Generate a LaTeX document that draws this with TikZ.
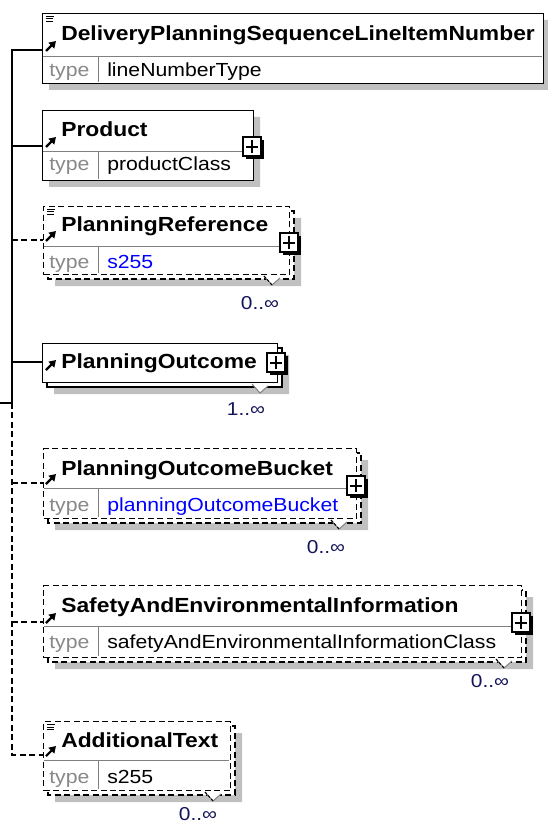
\documentclass[tikz,border=0pt]{standalone}
\usepackage{fontspec}
\setmainfont[FakeStretch=1.12]{Liberation Sans}
\usetikzlibrary{arrows.meta}

\definecolor{shadowgray}{RGB}{192,192,192}
\definecolor{rulegray}{RGB}{128,128,128}
\definecolor{typegray}{RGB}{136,136,136}
\definecolor{refblue}{RGB}{0,0,255}
\definecolor{cardnavy}{RGB}{20,20,90}

\begin{document}
\begin{tikzpicture}[
        x=0.75pt, y=-0.75pt,
        elem/.style={rectangle, draw=black, line width=1.1pt, fill=white,
                inner sep=0pt, anchor=north west},
        optional/.style={dash pattern=on 4.5pt off 2.6pt},
        rowline/.style={draw=rulegray, line width=0.75pt},
        wire/.style={line width=1.3pt},
        elemname/.style={anchor=base west, inner sep=0pt,
                font=\fontsize{15.3}{18}\selectfont\bfseries},
        typelabel/.style={anchor=base west, inner sep=0pt, text=typegray,
                font=\fontsize{14.2}{17}\selectfont},
        typename/.style={anchor=base west, inner sep=0pt,
                font=\fontsize{14.2}{17}\selectfont},
        card/.style={inner sep=0pt, text=cardnavy,
                font=\fontsize{14}{16}\selectfont} ]

    \useasboundingbox (0,0) rectangle (547,823);

    % drop shadows
    \fill[shadowgray]
    \foreach \l/\t/\r/\b/\o in {42/13/543/83/7, 42/110/253/180/7,
            43/206/289/274/12, 42/343/277/382/12, 43/448/356/518/12,
            43/585/521/657/12, 43/721/230/790/12} {
            (\l+\o,\t+\o) rectangle (\r+\o,\b+\o)
        };

    % second copy behind elements that repeat
    \filldraw[draw=black, fill=white, line width=1.1pt, optional]
    \foreach \l/\t/\r/\b in {43/206/289/274, 43/448/356/518,
            43/585/521/657, 43/721/230/790} {
            (\l+5,\t+5) rectangle (\r+5,\b+5)
        };
    \filldraw[draw=black, fill=white, line width=1.1pt]
    (47,348) rectangle (282,387);

    \node[elem, minimum width=501*0.75pt, minimum height=70*0.75pt] (seqline) at (42,13) {};
    \node[elem, minimum width=211*0.75pt, minimum height=70*0.75pt] (product) at (42,110) {};
    \node[elem, optional, minimum width=246*0.75pt, minimum height=68*0.75pt] (planref) at (43,206) {};
    \node[elem, minimum width=235*0.75pt, minimum height=39*0.75pt] (outcome) at (42,343) {};
    \node[elem, optional, minimum width=313*0.75pt, minimum height=70*0.75pt] (bucket) at (43,448) {};
    \node[elem, optional, minimum width=478*0.75pt, minimum height=72*0.75pt] (safety) at (43,585) {};
    \node[elem, optional, minimum width=187*0.75pt, minimum height=69*0.75pt] (addtext) at (43,721) {};

    \draw[rowline]
    \foreach \l/\r/\d/\b in {42/543/57/83, 42/253/152/180, 43/289/247/274,
            43/356/488/518, 43/521/626/657, 43/230/760/790} {
            (\l+1,\d) -- (\r-1,\d) (98,\d) -- (98,\b-1)
        };

    % multiplicity marks
    \filldraw[fill=white, draw=rulegray, line width=0.75pt]
    \foreach \R/\B in {294/279, 282/387, 361/523, 526/662, 235/795} {
            (\R-30,\B-3) -- (\R-22,\B+6) -- (\R-14,\B-1)
        };
    \draw[line width=0.75pt, dash pattern=on 2pt off 1.5pt]
    \foreach \R/\B in {294/279, 361/523, 526/662, 235/795} {
            (\R-30,\B-3) -- (\R-22,\B+6)
        };

    % expand buttons
    \foreach \cx/\cy in {252/147, 289/243, 276/363, 356/486, 521/623} {
            \fill[black] (\cx-6,\cy-7) rectangle (\cx+12,\cy+12);
            \filldraw[draw=black, fill=white, line width=1.1pt]
            (\cx-9,\cy-10) rectangle (\cx+9,\cy+9);
            \draw[line width=0.85pt] (\cx-6,\cy) -- (\cx+6,\cy) (\cx,\cy-7) -- (\cx,\cy+6);
        }

    % text content icons
    \draw[line width=0.75pt]
    \foreach \l/\t in {42/13, 43/206, 43/721} {
            (\l+4,\t+3.5) -- (\l+12,\t+3.5)
            (\l+4,\t+6) -- (\l+11,\t+6)
            (\l+4,\t+8.5) -- (\l+11,\t+8.5)
        };

    % reference arrows
    \foreach \y in {50, 146, 240, 369, 483, 622, 755} {
            \draw[line width=1.6pt, -{Triangle[length=5pt, width=6pt]}]
            (46,\y+1) -- (56,\y-9);
        }

    \node[elemname] (seqline-name) at (61,41) {DeliveryPlanningSequenceLineItemNumber};
    \node[typelabel] (seqline-tag) at (49,77) {type};
    \node[typename] (seqline-type) at (107,77) {lineNumberType};

    \node[elemname] (product-name) at (61,137) {Product};
    \node[typelabel] (product-tag) at (49,171) {type};
    \node[typename] (product-type) at (107,171) {productClass};

    \node[elemname] (planref-name) at (61,232) {PlanningReference};
    \node[typelabel] (planref-tag) at (49,268) {type};
    \node[typename, text=refblue] (planref-type) at (107,268) {s255};
    \node[card] (planref-card) at (260,303) {0..∞};

    \node[elemname] (outcome-name) at (61,368) {PlanningOutcome};
    \node[card] (outcome-card) at (246,409) {1..∞};

    \node[elemname] (bucket-name) at (61,475) {PlanningOutcomeBucket};
    \node[typelabel] (bucket-tag) at (49,511) {type};
    \node[typename, text=refblue] (bucket-type) at (107,511) {planningOutcomeBucket};
    \node[card] (bucket-card) at (326,547) {0..∞};

    \node[elemname] (safety-name) at (61,612) {SafetyAndEnvironmentalInformation};
    \node[typelabel] (safety-tag) at (49,648) {type};
    \node[typename] (safety-type) at (107,648) {safetyAndEnvironmentalInformationClass};
    \node[card] (safety-card) at (490,681) {0..∞};

    \node[elemname] (addtext-name) at (61,747) {AdditionalText};
    \node[typelabel] (addtext-tag) at (49,783) {type};
    \node[typename] (addtext-type) at (107,783) {s255};
    \node[card] (addtext-card) at (198,814) {0..∞};

    % sequence connectors
    \coordinate (feed) at (0,403);
    \coordinate (fork) at (12,403);
    \coordinate (j1) at (12,50);
    \coordinate (j2) at (12,146);
    \coordinate (j3) at (12,240);
    \coordinate (j4) at (12,362);
    \coordinate (j5) at (12,483);
    \coordinate (j6) at (12,622);
    \coordinate (j7) at (12,755);

    \draw[wire] (feed) -- (fork);
    \draw[wire] (j1 -| seqline.west) -- (j1) -- (fork);
    \draw[wire] (j2) -- (j2 -| product.west);
    \draw[wire, optional] (j3) -- (j3 -| planref.west);
    \draw[wire] (j4) -- (j4 -| outcome.west);
    \draw[wire, optional] (j5) -- (j5 -| bucket.west);
    \draw[wire, optional] (j6) -- (j6 -| safety.west);
    \draw[wire, optional] (fork) -- (j7) -- (j7 -| addtext.west);

\end{tikzpicture}
\end{document}
